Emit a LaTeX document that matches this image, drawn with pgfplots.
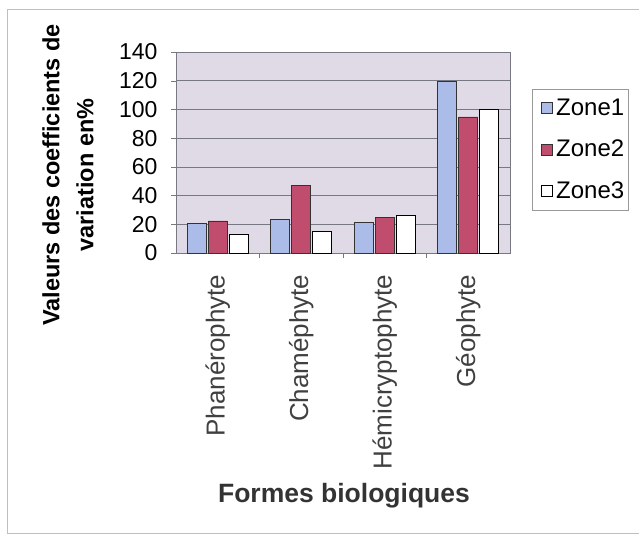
\documentclass[border=0pt]{standalone}
\usepackage{pgfplots}
\pgfplotsset{compat=1.18}
\usepackage{fontspec}
\setmainfont{Liberation Sans}
\definecolor{zoneA}{RGB}{172,188,232}
\definecolor{zoneB}{RGB}{192,76,110}
\definecolor{plotbg}{RGB}{224,218,230}
\definecolor{gridc}{RGB}{120,120,130}
\begin{document}
\begin{tikzpicture}
\begin{axis}[
  name=ax,
  scale only axis,
  width=334pt, height=201pt,
  ybar, bar width=19pt,
  ymin=0, ymax=140, ytick={0,20,...,140},
  xmin=-0.5, xmax=3.5,
  xtick={0,1,2,3},
  xticklabels={Phanérophyte,Chaméphyte,Hémicryptophyte,Géophyte},
  x tick label style={rotate=90, anchor=east, font=\fontsize{26}{28}\selectfont, text=black!75},
  xticklabel shift=13pt,
  y tick label style={font=\fontsize{23}{25}\selectfont},
  /pgf/number format/assume math mode=true,
  yticklabel shift=10pt,
  xtick pos=lower, ytick pos=left,
  major x tick style={draw=none},
  minor xtick={0.5,1.5,2.5},
  minor x tick style={draw=gridc},
  tick align=outside,
  ytick style={draw=gridc},
  major tick length=5pt, minor tick length=5pt,
  ymajorgrids, grid style={gridc, line width=0.6pt},
  axis line style={gridc},
  axis background/.style={fill=plotbg},
  legend style={at={(1,1)}, anchor=north west, xshift=22pt, yshift=-37pt,
    draw=black!40, font=\fontsize{24}{26}\selectfont, row sep=19pt,
    inner xsep=2pt, inner ysep=8pt},
  legend cell align=left,
  legend image code/.code={\path[draw=none, fill=none] (0pt,0pt) -- (20pt,0pt); \draw[#1] (7pt,-5.5pt) rectangle (18pt,5.5pt);},
]
\addplot[fill=zoneA, draw=black!80, line width=0.6pt] coordinates {(0,20.4) (1,23.2) (2,21.1) (3,119.6)};
\addplot[fill=zoneB, draw=black!80, line width=0.6pt] coordinates {(0,22.3) (1,47.2) (2,24.9) (3,94.8)};
\addplot[fill=white, draw=black, line width=0.6pt] coordinates {(0,13.2) (1,15.3) (2,26.2) (3,100.1)};
\legend{Zone1,Zone2,Zone3}
\end{axis}
\useasboundingbox ([shift={(-176pt,-283pt)}]ax.south west) rectangle ([shift={(463pt,253pt)}]ax.south west);
\draw[black!25, line width=1pt] ([shift={(463pt,243pt)}]ax.south west) -- ([shift={(-168pt,243pt)}]ax.south west) -- ([shift={(-168pt,-280pt)}]ax.south west) -- ([shift={(463pt,-280pt)}]ax.south west);
\node[rotate=90, align=center, font=\fontsize{23.5}{34}\selectfont\bfseries] at ([shift={(-108pt,78pt)}]ax.south west) {Valeurs des coefficients de\\variation en\%};
\node[font=\fontsize{26.5}{28}\selectfont\bfseries, text=black!80] at ([shift={(1pt,-243pt)}]ax.south) {Formes biologiques};
\end{tikzpicture}
\end{document}
